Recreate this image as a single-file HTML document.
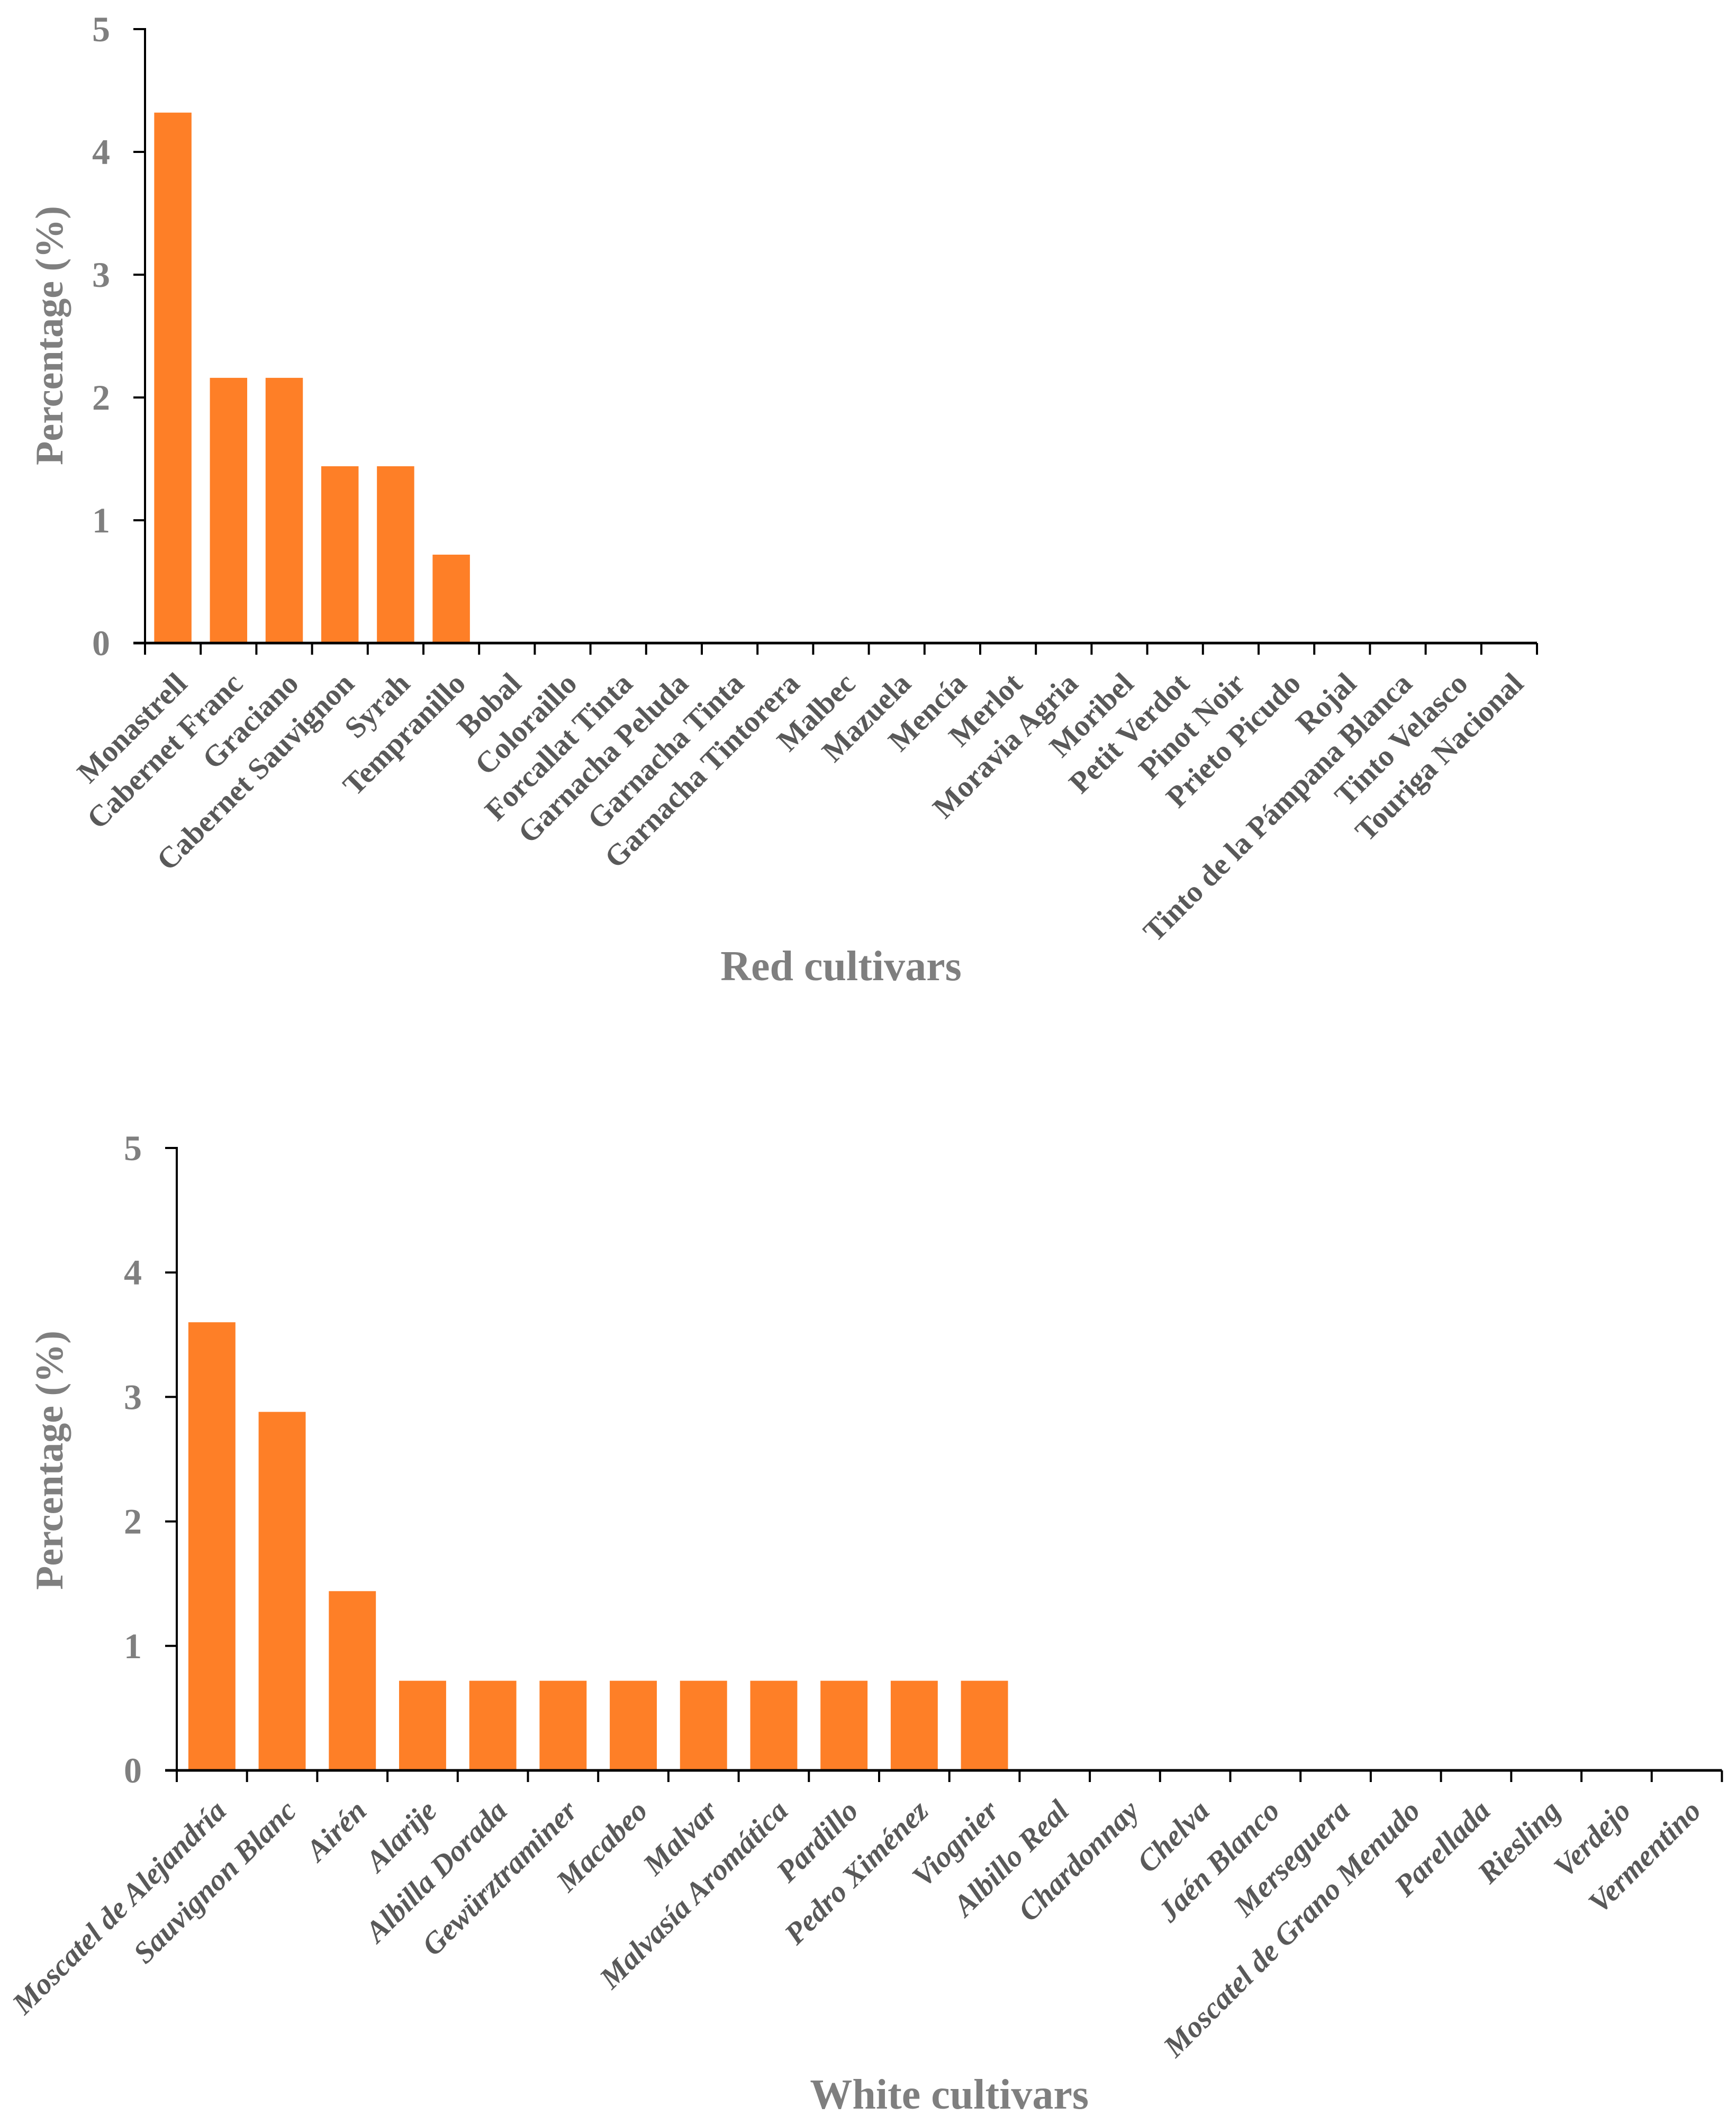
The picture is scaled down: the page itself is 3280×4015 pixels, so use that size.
<!DOCTYPE html>
<html><head><meta charset="utf-8"><style>
html,body{margin:0;padding:0;background:#fff}
svg{display:block}
text{font-family:"Liberation Serif",serif;font-weight:bold}
</style></head><body>
<svg id="chart" width="3280" height="4015" viewBox="0 0 3280 4015" xmlns="http://www.w3.org/2000/svg"></svg>
<script>
const redCategories = ["Monastrell","Cabernet Franc","Graciano","Cabernet Sauvignon","Syrah","Tempranillo","Bobal","Coloraillo","Forcallat Tinta","Garnacha Peluda","Garnacha Tinta","Garnacha Tintorera","Malbec","Mazuela","Mencía","Merlot","Moravia Agria","Moribel","Petit Verdot","Pinot Noir","Prieto Picudo","Rojal","Tinto de la Pámpana Blanca","Tinto Velasco","Touriga Nacional"];
const redValues = [4.32,2.16,2.16,1.44,1.44,0.72,0,0,0,0,0,0,0,0,0,0,0,0,0,0,0,0,0,0,0];
const whiteCategories = ["Moscatel de Alejandría","Sauvignon Blanc","Airén","Alarije","Albilla Dorada","Gewürztraminer","Macabeo","Malvar","Malvasía Aromática","Pardillo","Pedro Ximénez","Viognier","Albillo Real","Chardonnay","Chelva","Jaén Blanco","Merseguera","Moscatel de Grano Menudo","Parellada","Riesling","Verdejo","Vermentino"];
const whiteValues = [3.6,2.88,1.44,0.72,0.72,0.72,0.72,0.72,0.72,0.72,0.72,0.72,0,0,0,0,0,0,0,0,0,0];
const yTicks = [0,1,2,3,4,5];

const NS = "http://www.w3.org/2000/svg";
const svg = document.getElementById('chart');
function mk(tag, attrs, parent){
  const e = document.createElementNS(NS, tag);
  for (const k in attrs) e.setAttribute(k, attrs[k]);
  (parent||svg).appendChild(e);
  return e;
}

function drawChart(cfg, cats, vals){
  const g = mk('g', {});
  
  
  const band = cfg.band;
  const xScale = i => cfg.x0 + band * i;
  const yScale = v => cfg.y0 - (cfg.y0 - cfg.y5) * v / 5;
  vals.forEach((v, i) => {
    if (v <= 0) return;
    const bw = band * 0.67;
    const r = mk('rect', {x: xScale(i) + (band - bw)/2, y: yScale(v), width: bw, height: yScale(0) - yScale(v), fill: '#fe7f27'}, g);
    
    
  });
  const ya = mk('line', {x1: cfg.x0, y1: yScale(5) - 2, x2: cfg.x0, y2: cfg.y0 + 2, stroke: '#000', 'stroke-width': 4}, g);
  
  
  yTicks.forEach(t => {
    mk('line', {x1: cfg.x0 - 22, y1: yScale(t), x2: cfg.x0, y2: yScale(t), stroke: '#000', 'stroke-width': 4}, g);
    const tl = mk('text', {x: cfg.tickRight, y: yScale(t) + 23, 'text-anchor': 'end', 'font-size': 68, fill: '#7f7f7f'}, g);
    tl.textContent = t;
    
    
  });
  const xEnd = xScale(cats.length);
  const xa = mk('line', {x1: cfg.x0 - 22, y1: cfg.y0, x2: xEnd, y2: cfg.y0, stroke: '#000', 'stroke-width': 5}, g);
  
  
  for (let i = 0; i <= cats.length; i++) {
    mk('line', {x1: xScale(i), y1: cfg.y0, x2: xScale(i), y2: cfg.y0 + 22, stroke: '#000', 'stroke-width': 4}, g);
  }
  cats.forEach((c, i) => {
    const ax = xScale(i) + band/2 + 30, ay = cfg.y0 + 80;
    const t = mk('text', {x: ax, y: ay, 'text-anchor': 'end', 'font-size': cfg.labelSize, fill: '#595959', transform: 'rotate(-45 ' + ax + ' ' + ay + ')'}, g);
    if (cfg.italic) t.setAttribute('font-style', 'italic');
    t.textContent = c;
    
    
  });
  const yt = mk('text', {x: 0, y: 0, 'text-anchor': 'middle', 'font-size': 74, fill: '#7f7f7f', transform: 'translate(' + (cfg.titleX + 26) + ' ' + cfg.titleY + ') rotate(-90)'}, g);
  yt.textContent = 'Percentage (%)';
  
  
  const xt = mk('text', {x: cfg.x0 + (xEnd - cfg.x0)/2, y: cfg.xTitleY, 'text-anchor': 'middle', 'font-size': 80, fill: '#7f7f7f'}, g);
  xt.textContent = cfg.xTitle;
  
  
}

drawChart({name: 'red-cultivars-chart', x0: 274, y0: 1215, y5: 55, band: 105.2, tickRight: 208, labelSize: 57, italic: false, titleX: 92, titleY: 634, xTitle: 'Red cultivars', xTitleY: 1852}, redCategories, redValues);
drawChart({name: 'white-cultivars-chart', x0: 334, y0: 3345, y5: 2169, band: 132.7, tickRight: 268, labelSize: 57, italic: true, titleX: 92, titleY: 2759, xTitle: 'White cultivars', xTitleY: 3984}, whiteCategories, whiteValues);
</script>
</body></html>
